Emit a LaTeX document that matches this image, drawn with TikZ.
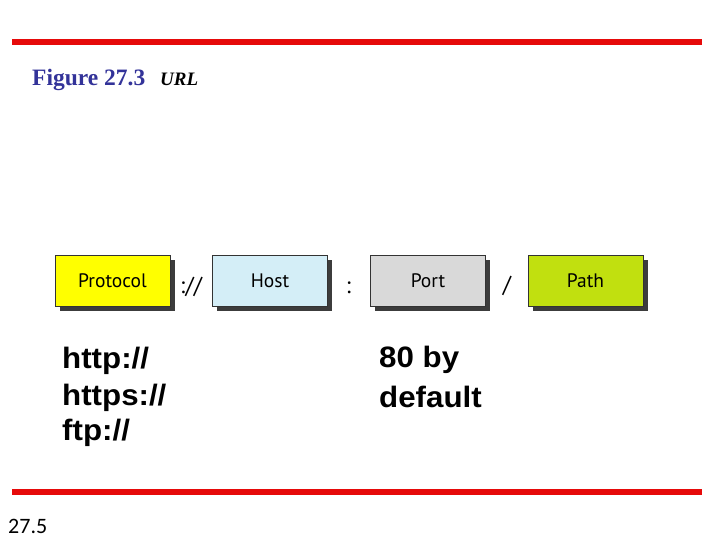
\documentclass[tikz,border=0pt]{standalone}
\usepackage{fontspec}
\setmainfont{Liberation Serif}
\newfontfamily\arial{Liberation Sans}
\newfontfamily\boxfont{PT Sans}
\newfontfamily\calib{Carlito}
\definecolor{barred}{RGB}{230,10,10}
\definecolor{figblue}{RGB}{51,51,153}
\definecolor{protoc}{RGB}{255,255,0}
\definecolor{hostc}{RGB}{212,238,247}
\definecolor{portc}{RGB}{217,217,217}
\definecolor{pathc}{RGB}{193,224,15}
\definecolor{shadowc}{RGB}{60,60,60}
\tikzset{
  urlbox/.style={draw=black!80, line width=0.8pt, minimum width=115pt, minimum height=51pt,
    font=\boxfont\fontsize{19.5}{22}\selectfont, inner sep=0pt},
  boxshadow/.style={fill=shadowc},
  sep/.style={font=\boxfont\fontsize{23}{25}\selectfont, inner sep=0pt},
  bigtxt/.style={font=\arial\bfseries\fontsize{29.5}{37}\selectfont, anchor=base west, inner sep=0pt, xscale=1.06},
  bar/.style={fill=barred, draw=none}
}
\begin{document}
\begin{tikzpicture}[x=1pt,y=-1pt]
\useasboundingbox (0,0) rectangle (720,540);
% bars
\fill[bar] (12,39.5) rectangle (702,45.5);
\fill[bar] (12,488.5) rectangle (702,494.5);
% title
\node[anchor=base west, inner sep=0pt, text=figblue, font=\bfseries\fontsize{23.5}{26}\selectfont] (fig) at (32,86) {Figure 27.3};
\node[anchor=base west, inner sep=0pt, font=\bfseries\itshape\fontsize{19}{22}\selectfont] (url) at (160,86) {URL};
% shadows
\foreach \x in {55,212,370,528} {
  \fill[boxshadow] (\x+5,260) rectangle (\x+120,311);
}
% boxes
\node[urlbox, fill=protoc] (proto) at (112.5,280.5) {Protocol};
\node[urlbox, fill=hostc] (host) at (270,280.5) {Host};
\node[urlbox, fill=portc] (port) at (428,280.5) {Port};
\node[urlbox, fill=pathc] (path) at (585.5,280.5) {Path};
% separators
\node[sep] (s1) at (191,287) {://};
\node[sep] (s2) at (348.5,288) {:};
\node[sep] (s3) at (507,286) {/};
% lower texts
\node[bigtxt] (p1) at (62,368) {http://};
\node[bigtxt] (p2) at (62,405) {https://};
\node[bigtxt] (p3) at (62,440) {ftp://};
\node[bigtxt] (d1) at (379,367) {80 by};
\node[bigtxt] (d2) at (379,407) {default};
% page number
\node[anchor=base west, inner sep=0pt, font=\calib\fontsize{22}{26}\selectfont] (pg) at (8,533) {27.5};
\end{tikzpicture}
\end{document}
